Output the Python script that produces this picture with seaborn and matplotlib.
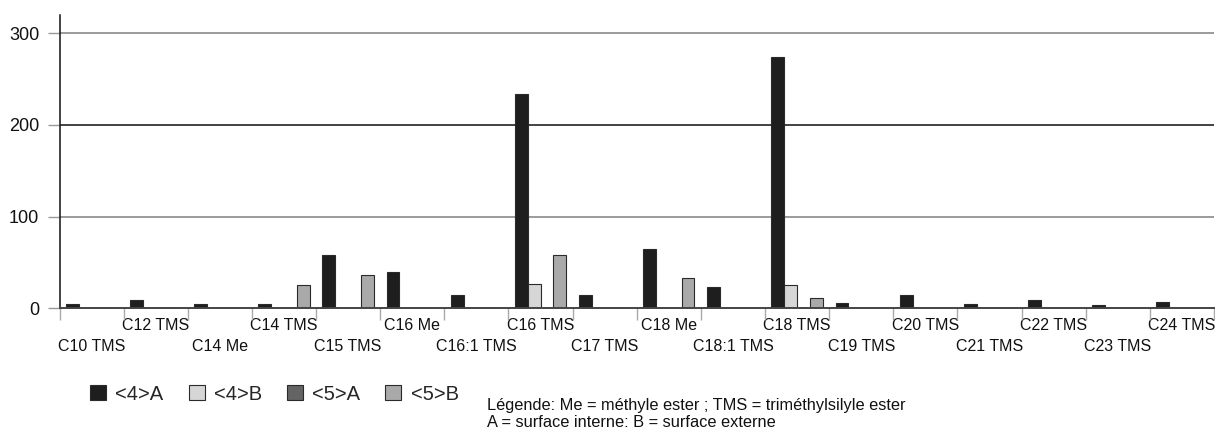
import seaborn as sns
import matplotlib.pyplot as plt
import matplotlib.patches as mpatches
import pandas as pd

composes = ['C10 TMS', 'C12 TMS', 'C14 Me', 'C14 TMS', 'C15 TMS', 'C16 Me',
            'C16:1 TMS', 'C16 TMS', 'C17 TMS', 'C18 Me', 'C18:1 TMS', 'C18 TMS',
            'C19 TMS', 'C20 TMS', 'C21 TMS', 'C22 TMS', 'C23 TMS', 'C24 TMS']
series = ['<4>A', '<4>B', '<5>A', '<5>B']

v4A = [5, 9, 5, 5, 58, 40, 14, 234, 14, 65, 23, 274, 6, 14, 5, 9, 4, 7]
v4B = [0, 0, 0, 0, 0, 0, 0, 26, 0, 0, 0, 25, 0, 0, 0, 0, 0, 0]
v5A = [0, 0, 0, 0, 0, 0, 0, 0, 0, 0, 0, 0, 0, 0, 0, 0, 0, 0]
v5B = [0, 0, 0, 25, 36, 0, 0, 58, 0, 33, 0, 11, 0, 0, 0, 0, 0, 0]

couleurs = {'<4>A': '#1e1e1e', '<4>B': '#d6d6d6', '<5>A': '#646464', '<5>B': '#a9a9a9'}

df = pd.DataFrame({
    'compose': composes * 4,
    'serie': [s for s in series for _ in composes],
    'valeur': v4A + v4B + v5A + v5B,
})

sns.set_theme(style='white')
plt.rcParams['font.family'] = ['Liberation Sans', 'DejaVu Sans']

fig = plt.figure(figsize=(12.15, 4.3), dpi=100)
ax = fig.add_axes([59.5 / 1215, (430 - 308.3) / 430, (1214 - 59.5) / 1215, (308.3 - 15) / 430])

sns.barplot(data=df, x='compose', y='valeur', hue='serie', hue_order=series,
            order=composes, palette=couleurs, width=0.8, edgecolor='#2a2a2a',
            linewidth=0.8, legend=False, ax=ax)

ax.set_xlim(-0.5, len(composes) - 0.5)
ax.set_ylim(0, 320)
ax.set_xlabel('')
ax.set_ylabel('')

# lignes de grille horizontales
ax.set_yticks([0, 100, 200, 300])
for y, c in [(100, '#8a8a8a'), (200, '#222222'), (300, '#8a8a8a')]:
    ax.axhline(y, color=c, lw=1.2, zorder=0)

for s in ['top', 'right']:
    ax.spines[s].set_visible(False)
ax.spines['left'].set_color('#111111')
ax.spines['left'].set_linewidth(1.1)
ax.spines['bottom'].set_color('#444444')
ax.spines['bottom'].set_linewidth(1.4)

ax.tick_params(axis='y', which='major', length=8.5, width=1, color='#999999',
               direction='out', labelsize=13, pad=6, left=True)
ax.set_yticklabels(['0', '100', '200', '300'], color='#111111')

# etiquettes en quinconce, graduations aux limites des categories
ax.set_xticks(range(len(composes)))
ax.set_xticklabels(composes, fontsize=11.5, color='#111111')
ax.set_xticks([i - 0.5 for i in range(len(composes) + 1)], minor=True)
ax.tick_params(axis='x', which='major', length=0, pad=7)
ax.tick_params(axis='x', which='minor', length=8.5, width=1, color='#aaaaaa',
               direction='out', bottom=True)
for i, t in enumerate(ax.xaxis.get_major_ticks()):
    if i % 2 == 0:
        t.set_pad(22)

handles = [mpatches.Patch(facecolor=couleurs[s], edgecolor='#2a2a2a', lw=0.8, label=s)
           for s in series]
fig.legend(handles=handles, loc='center left', bbox_to_anchor=(82 / 1215, 1 - 394 / 430),
           ncol=4, frameon=False, fontsize=14.5, handlelength=0.8, handleheight=0.8,
           handletextpad=0.45, columnspacing=1.25, borderaxespad=0)

fig.text(487 / 1215, 1 - 414 / 430,
         'Légende: Me = méthyle ester ; TMS = triméthylsilyle ester\n'
         'A = surface interne: B = surface externe',
         fontsize=11.8, va='center', ha='left', linespacing=1.12, color='#111111')

fig.savefig('out.png', dpi=100)
